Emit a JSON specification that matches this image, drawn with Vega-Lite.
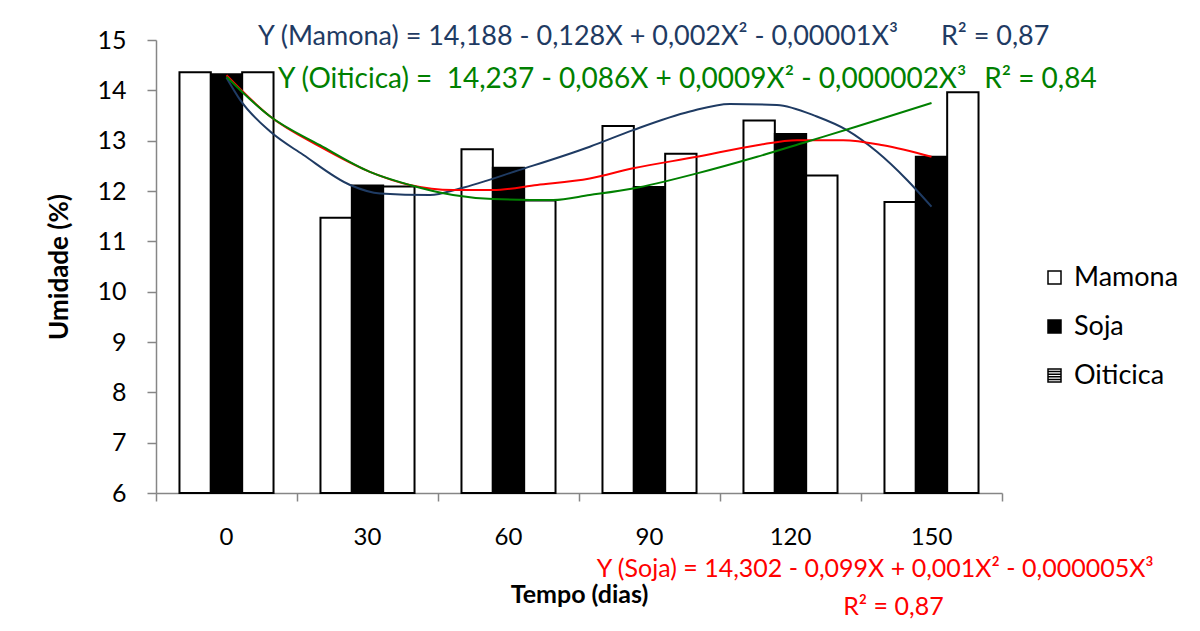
{
  "$schema": "https://vega.github.io/schema/vega-lite/v6.json",
  "autosize": "none",
  "padding": {"left": 156, "top": 40, "right": 198, "bottom": 138},
  "width": 846,
  "height": 453,
  "background": "white",
  "config": {
    "font": "Lato",
    "view": {"stroke": null},
    "axis": {"grid": false, "labelColor": "black", "titleColor": "black"}
  },
  "datasets": {
    "curvas": [
      {"curva": "Mamona", "dia": 0, "umidade": 14.25},
      {"curva": "Mamona", "dia": 2.9, "umidade": 13.81},
      {"curva": "Mamona", "dia": 9.3, "umidade": 13.18},
      {"curva": "Mamona", "dia": 16.3, "umidade": 12.72},
      {"curva": "Mamona", "dia": 26.3, "umidade": 12.12},
      {"curva": "Mamona", "dia": 32.7, "umidade": 11.95},
      {"curva": "Mamona", "dia": 43.3, "umidade": 11.92},
      {"curva": "Mamona", "dia": 49.7, "umidade": 12.05},
      {"curva": "Mamona", "dia": 62.4, "umidade": 12.42},
      {"curva": "Mamona", "dia": 77.3, "umidade": 12.88},
      {"curva": "Mamona", "dia": 86.5, "umidade": 13.21},
      {"curva": "Mamona", "dia": 98.6, "umidade": 13.58},
      {"curva": "Mamona", "dia": 107.1, "umidade": 13.73},
      {"curva": "Mamona", "dia": 117.1, "umidade": 13.71},
      {"curva": "Mamona", "dia": 125.6, "umidade": 13.48},
      {"curva": "Mamona", "dia": 132, "umidade": 13.21},
      {"curva": "Mamona", "dia": 138.4, "umidade": 12.78},
      {"curva": "Mamona", "dia": 144.8, "umidade": 12.22},
      {"curva": "Mamona", "dia": 150, "umidade": 11.69},
      {"curva": "Soja", "dia": 0, "umidade": 14.3},
      {"curva": "Soja", "dia": 9.3, "umidade": 13.48},
      {"curva": "Soja", "dia": 19.9, "umidade": 12.88},
      {"curva": "Soja", "dia": 30.5, "umidade": 12.38},
      {"curva": "Soja", "dia": 39, "umidade": 12.12},
      {"curva": "Soja", "dia": 48.2, "umidade": 12.02},
      {"curva": "Soja", "dia": 56.7, "umidade": 12.02},
      {"curva": "Soja", "dia": 66.1, "umidade": 12.12},
      {"curva": "Soja", "dia": 77.3, "umidade": 12.25},
      {"curva": "Soja", "dia": 86.5, "umidade": 12.45},
      {"curva": "Soja", "dia": 100.1, "umidade": 12.68},
      {"curva": "Soja", "dia": 112.9, "umidade": 12.91},
      {"curva": "Soja", "dia": 121.4, "umidade": 13.01},
      {"curva": "Soja", "dia": 131.2, "umidade": 13.01},
      {"curva": "Soja", "dia": 139.7, "umidade": 12.91},
      {"curva": "Soja", "dia": 150, "umidade": 12.68},
      {"curva": "Oiticica", "dia": 0, "umidade": 14.27},
      {"curva": "Oiticica", "dia": 9.3, "umidade": 13.48},
      {"curva": "Oiticica", "dia": 19.9, "umidade": 12.91},
      {"curva": "Oiticica", "dia": 30.5, "umidade": 12.38},
      {"curva": "Oiticica", "dia": 39, "umidade": 12.12},
      {"curva": "Oiticica", "dia": 48.2, "umidade": 11.92},
      {"curva": "Oiticica", "dia": 56.7, "umidade": 11.84},
      {"curva": "Oiticica", "dia": 69.5, "umidade": 11.82},
      {"curva": "Oiticica", "dia": 77.3, "umidade": 11.92},
      {"curva": "Oiticica", "dia": 86.5, "umidade": 12.05},
      {"curva": "Oiticica", "dia": 100.1, "umidade": 12.35},
      {"curva": "Oiticica", "dia": 112.9, "umidade": 12.68},
      {"curva": "Oiticica", "dia": 123.5, "umidade": 12.98},
      {"curva": "Oiticica", "dia": 134.1, "umidade": 13.28},
      {"curva": "Oiticica", "dia": 150, "umidade": 13.75}
    ]
  },
  "layer": [
    {
      "data": {
        "values": [
          {"tempo": "0", "serie": "Mamona", "umidade": 14.36},
          {"tempo": "0", "serie": "Soja", "umidade": 14.32},
          {"tempo": "0", "serie": "Oiticica", "umidade": 14.36},
          {"tempo": "30", "serie": "Mamona", "umidade": 11.47},
          {"tempo": "30", "serie": "Soja", "umidade": 12.11},
          {"tempo": "30", "serie": "Oiticica", "umidade": 12.09},
          {"tempo": "60", "serie": "Mamona", "umidade": 12.83},
          {"tempo": "60", "serie": "Soja", "umidade": 12.46},
          {"tempo": "60", "serie": "Oiticica", "umidade": 11.81},
          {"tempo": "90", "serie": "Mamona", "umidade": 13.29},
          {"tempo": "90", "serie": "Soja", "umidade": 12.08},
          {"tempo": "90", "serie": "Oiticica", "umidade": 12.74},
          {"tempo": "120", "serie": "Mamona", "umidade": 13.4},
          {"tempo": "120", "serie": "Soja", "umidade": 13.13},
          {"tempo": "120", "serie": "Oiticica", "umidade": 12.31},
          {"tempo": "150", "serie": "Mamona", "umidade": 11.78},
          {"tempo": "150", "serie": "Soja", "umidade": 12.68},
          {"tempo": "150", "serie": "Oiticica", "umidade": 13.96}
        ]
      },
      "mark": {"type": "bar", "stroke": "black", "strokeWidth": 2},
      "encoding": {
        "x": {
          "field": "tempo",
          "type": "nominal",
          "sort": ["0", "30", "60", "90", "120", "150"],
          "scale": {"paddingInner": 0.333, "paddingOuter": 0.1665},
          "axis": {
            "orient": "bottom",
            "domain": false,
            "ticks": false,
            "labelAngle": 0,
            "labelFontSize": 24,
            "labelPadding": 32,
            "title": "Tempo (dias)",
            "titleFontSize": 25,
            "titleFontWeight": "bold",
            "titlePadding": 33
          }
        },
        "xOffset": {
          "field": "serie",
          "type": "nominal",
          "sort": ["Mamona", "Soja", "Oiticica"],
          "scale": {"paddingInner": 0, "paddingOuter": 0}
        },
        "y": {
          "field": "umidade",
          "type": "quantitative",
          "scale": {"domain": [6, 15], "nice": false, "zero": false},
          "axis": {
            "values": [6, 7, 8, 9, 10, 11, 12, 13, 14, 15],
            "domainColor": "#868686",
            "domainWidth": 1.5,
            "tickColor": "#868686",
            "tickSize": 9,
            "tickWidth": 1.5,
            "labelFontSize": 25,
            "labelPadding": 21,
            "title": "Umidade (%)",
            "titleFontSize": 26,
            "titleFontWeight": "bold",
            "titlePadding": 24
          }
        },
        "y2": {"datum": 6},
        "fill": {
          "field": "serie",
          "type": "nominal",
          "sort": ["Mamona", "Soja", "Oiticica"],
          "scale": {"domain": ["Mamona", "Soja", "Oiticica"], "range": ["white", "black", "white"]},
          "legend": {
            "orient": "none",
            "legendX": 885,
            "legendY": 224,
            "title": null,
            "symbolType": "square",
            "symbolSize": 169,
            "symbolStrokeColor": "black",
            "symbolStrokeWidth": 1.5,
            "labelFontSize": 27,
            "labelColor": "black",
            "labelOffset": 6,
            "rowPadding": 21,
            "encode": {
              "symbols": {
                "update": {
                  "stroke": {"value": "black"},
                  "strokeWidth": {"value": 1.5},
                  "shape": {"signal": "datum.value === 'Oiticica' ? 'M-1,-1H1V1H-1Z M-1,-0.6H1 M-1,-0.2H1 M-1,0.2H1 M-1,0.6H1' : 'square'"}
                }
              }
            }
          }
        }
      }
    },
    {
      "layer": [
        {
          "data": {"name": "curvas"},
          "transform": [{"filter": "datum.curva === 'Mamona'"}],
          "mark": {"type": "line", "strokeWidth": 2, "interpolate": "monotone", "color": "#1F3B63"},
          "encoding": {
            "x": {
              "field": "dia",
              "type": "quantitative",
              "scale": {"domain": [-15, 165], "nice": false, "zero": false},
              "axis": {
                "orient": "bottom",
                "values": [-15, 15, 45, 75, 105, 135, 165],
                "labels": false,
                "title": null,
                "domainColor": "#868686",
                "domainWidth": 1.5,
                "tickColor": "#868686",
                "tickWidth": 1.5,
                "tickSize": 8
              }
            },
            "y": {"field": "umidade", "type": "quantitative"}
          }
        },
        {
          "data": {"name": "curvas"},
          "transform": [{"filter": "datum.curva === 'Soja'"}],
          "mark": {"type": "line", "strokeWidth": 2, "interpolate": "monotone", "color": "#FF0000"},
          "encoding": {
            "x": {"field": "dia", "type": "quantitative"},
            "y": {"field": "umidade", "type": "quantitative"}
          }
        },
        {
          "data": {"name": "curvas"},
          "transform": [{"filter": "datum.curva === 'Oiticica'"}],
          "mark": {"type": "line", "strokeWidth": 2, "interpolate": "monotone", "color": "#008000"},
          "encoding": {
            "x": {"field": "dia", "type": "quantitative"},
            "y": {"field": "umidade", "type": "quantitative"}
          }
        },
        {
          "data": {
            "values": [
              {"dia": 6.7, "umidade": 15.066, "texto": "Y (Mamona) = 14,188 - 0,128X + 0,002X² - 0,00001X³"},
              {"dia": 152, "umidade": 15.066, "texto": "R² = 0,87"}
            ]
          },
          "mark": {"type": "text", "align": "left", "baseline": "middle", "fontSize": 27, "color": "#1F3B63"},
          "encoding": {
            "x": {"field": "dia", "type": "quantitative"},
            "y": {"field": "umidade", "type": "quantitative"},
            "text": {"field": "texto"}
          }
        },
        {
          "data": {
            "values": [
              {"dia": 10.96, "umidade": 14.205, "texto": "Y (Oiticica) =\u00a0 14,237 - 0,086X + 0,0009X² - 0,000002X³"},
              {"dia": 161.2, "umidade": 14.205, "texto": "R² = 0,84"}
            ]
          },
          "mark": {"type": "text", "align": "left", "baseline": "middle", "fontSize": 28, "color": "#008000"},
          "encoding": {
            "x": {"field": "dia", "type": "quantitative"},
            "y": {"field": "umidade", "type": "quantitative"},
            "text": {"field": "texto"}
          }
        },
        {
          "data": {
            "values": [
              {"dia": 78.8, "umidade": 4.49, "texto": "Y (Soja) = 14,302 - 0,099X + 0,001X² - 0,000005X³"},
              {"dia": 131.2, "umidade": 3.74, "texto": "R² = 0,87"}
            ]
          },
          "mark": {"type": "text", "align": "left", "baseline": "middle", "fontSize": 25, "color": "#FF0000"},
          "encoding": {
            "x": {"field": "dia", "type": "quantitative"},
            "y": {"field": "umidade", "type": "quantitative"},
            "text": {"field": "texto"}
          }
        }
      ]
    }
  ],
  "resolve": {"scale": {"x": "independent"}, "axis": {"x": "independent"}}
}
